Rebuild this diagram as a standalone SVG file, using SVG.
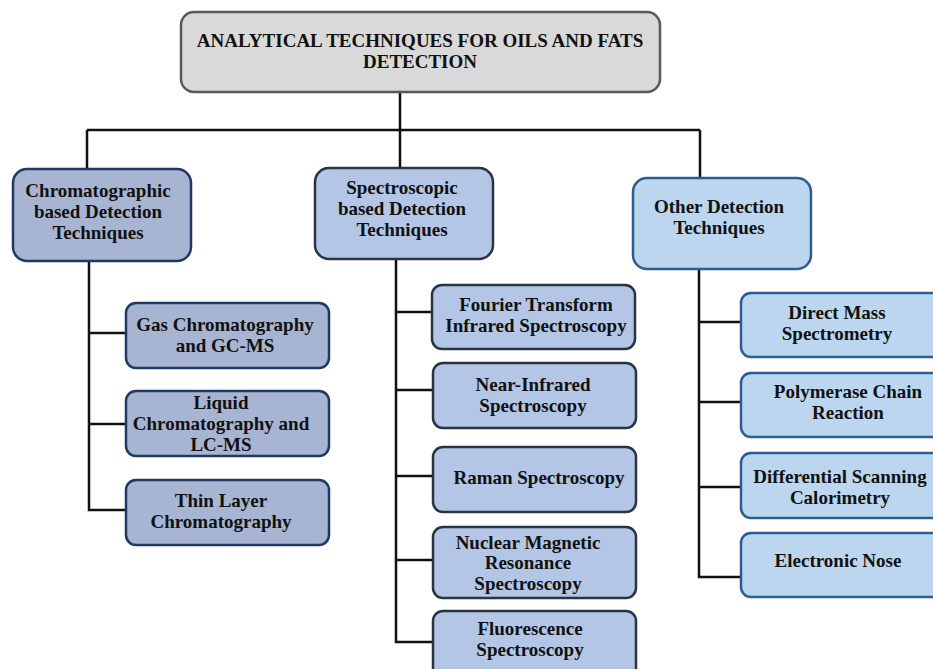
<svg xmlns="http://www.w3.org/2000/svg" width="933" height="669" viewBox="0 0 933 669">
<style>
text{font-family:"Liberation Serif","Times New Roman",serif;font-weight:bold;font-size:19px;fill:#111;text-anchor:middle}
.root{fill:#d9d9d9;stroke:#595959;stroke-width:2.5}
.chr{fill:#a7b5d2;stroke:#1f3864;stroke-width:2.5}
.spe{fill:#b3c6e6;stroke:#2a3340;stroke-width:2.5}
.oth{fill:#bcd6ef;stroke:#2b5d8e;stroke-width:2.5}
.conn{fill:none;stroke:#111;stroke-width:2.5}
</style>
<rect width="933" height="669" fill="#fff"/>
<g id="connectors" class="conn">
<path d="M400 92V168M87 130H700M87 130V169M700 130V178"/>
<path d="M89 261V510H126M89 333H126M89 424H126"/>
<path d="M396 259V642H432M396 312H432M396 390H432M396 476H432M396 560H432"/>
<path d="M699 269V577H741M699 322H741M699 402H741M699 487H741"/>
</g>
<g id="root"><rect class="root" x="181" y="12" width="479" height="80" rx="13"/><text x="420" y="47">ANALYTICAL TECHNIQUES FOR OILS AND FATS</text><text x="420" y="68">DETECTION</text></g>
<g id="chromatographic"><rect class="chr" x="13" y="169" width="178" height="92" rx="14"/><text x="98" y="197">Chromatographic</text><text x="98" y="218">based Detection</text><text x="98" y="239">Techniques</text></g>
<g id="spectroscopic"><rect class="spe" x="315" y="168" width="178" height="91" rx="14"/><text x="402" y="194">Spectroscopic</text><text x="402" y="215">based Detection</text><text x="402" y="236">Techniques</text></g>
<g id="other"><rect class="oth" x="633" y="178" width="178" height="91" rx="14"/><text x="719" y="213">Other Detection</text><text x="719" y="234">Techniques</text></g>
<g id="gc"><rect class="chr" x="126" y="303" width="203" height="65" rx="10"/><text x="225" y="331">Gas Chromatography</text><text x="225" y="352">and GC-MS</text></g>
<g id="lc"><rect class="chr" x="126" y="391" width="203" height="65" rx="10"/><text x="221" y="409">Liquid</text><text x="221" y="430">Chromatography and</text><text x="221" y="451">LC-MS</text></g>
<g id="tlc"><rect class="chr" x="126" y="480" width="203" height="65" rx="10"/><text x="221" y="507">Thin Layer</text><text x="221" y="528">Chromatography</text></g>
<g id="ftir"><rect class="spe" x="432" y="285" width="203" height="64" rx="10"/><text x="536" y="311">Fourier Transform</text><text x="536" y="332">Infrared Spectroscopy</text></g>
<g id="nir"><rect class="spe" x="433" y="363" width="203" height="65" rx="10"/><text x="533" y="391">Near-Infrared</text><text x="533" y="412">Spectroscopy</text></g>
<g id="raman"><rect class="spe" x="433" y="447" width="203" height="65" rx="10"/><text x="539" y="484">Raman Spectroscopy</text></g>
<g id="nmr"><rect class="spe" x="433" y="527" width="203" height="71" rx="10"/><text x="528" y="549">Nuclear Magnetic</text><text x="528" y="569">Resonance</text><text x="528" y="590">Spectroscopy</text></g>
<g id="fluor"><rect class="spe" x="433" y="611" width="203" height="70" rx="10"/><text x="530" y="635">Fluorescence</text><text x="530" y="656">Spectroscopy</text></g>
<g id="dms"><rect class="oth" x="741" y="293" width="205" height="64" rx="10"/><text x="837" y="319">Direct Mass</text><text x="837" y="340">Spectrometry</text></g>
<g id="pcr"><rect class="oth" x="741" y="373" width="205" height="64" rx="10"/><text x="848" y="398">Polymerase Chain</text><text x="848" y="419">Reaction</text></g>
<g id="dsc"><rect class="oth" x="741" y="453" width="205" height="65" rx="10"/><text x="840" y="483">Differential Scanning</text><text x="840" y="504">Calorimetry</text></g>
<g id="enose"><rect class="oth" x="741" y="533" width="205" height="64" rx="10"/><text x="838" y="567">Electronic Nose</text></g>
</svg>
